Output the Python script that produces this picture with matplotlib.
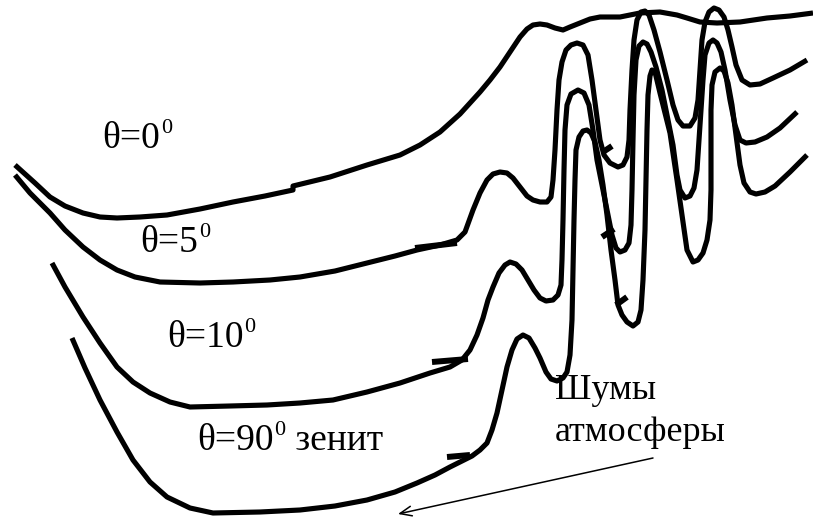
import matplotlib
matplotlib.use("Agg")
import matplotlib.pyplot as plt

# ---- curve data (pixel-space readings from the reference) ----
c1_x = [15, 35, 50, 65, 83, 100, 117, 140, 167, 200, 233, 265, 293, 293, 330, 367, 400, 420, 440, 460, 480, 490, 500,
        510, 520, 527, 533, 540, 547, 555, 563, 570, 580, 590, 600, 620, 640, 660, 677, 687, 700, 717, 740, 767, 790, 813]
c1_y = [165, 183, 197, 206, 213, 217, 218, 217, 215, 209, 202, 196, 190, 186, 177, 165, 155, 145, 132, 114, 92, 80, 67,
        52, 37, 29, 25, 24, 25, 28, 30, 27, 23, 19, 17, 17, 13, 12, 15, 18, 22, 23, 22, 18, 16, 13]

c2_x = [15, 30, 50, 65, 83, 100, 117, 135, 160, 200, 233, 270, 300, 335, 367, 395, 417, 440, 457, 465, 473, 480, 487,
        493, 500, 507, 513, 520, 527, 533, 540, 547, 551, 553, 555, 557, 559, 562, 566, 571, 577, 583, 588, 592, 596,
        600, 604, 610, 618, 623, 627, 629, 630, 632, 634, 637, 641, 645, 649, 654, 660, 667, 673, 678, 683, 690, 695,
        698, 700, 702, 705, 709, 714, 719, 724, 728, 732, 736, 742, 750, 760, 773, 790, 807]
c2_y = [175, 193, 213, 230, 247, 260, 270, 277, 282, 283, 282, 280, 277, 271, 263, 256, 250, 245, 240, 232, 210, 193, 180,
        174, 172, 173, 178, 187, 196, 200, 202, 202, 197, 180, 150, 110, 80, 62, 50, 45, 43, 45, 55, 80, 110,
        140, 155, 163, 167, 165, 157, 140, 110, 70, 40, 20, 12, 11, 15, 30, 52, 80, 105, 120, 126, 126, 118,
        100, 70, 40, 22, 12, 8, 10, 17, 30, 47, 65, 80, 85, 84, 78, 70, 60]

c3_x = [52, 65, 83, 100, 117, 133, 150, 170, 190, 230, 267, 300, 333, 367, 400, 430, 450, 462, 470, 477, 483, 488, 493,
        499, 505, 510, 516, 522, 528, 534, 540, 546, 553, 558, 561, 562, 563, 564, 565, 567, 571, 578, 584, 589, 593,
        597, 602, 607, 612, 616, 620, 625, 629, 631, 632, 633, 634, 636, 639, 643, 647, 651, 656, 662, 668, 673, 677,
        680, 685, 690, 694, 697, 699, 701, 703, 705, 709, 713, 717, 721, 725, 730, 735, 740, 746, 755, 767, 780, 797]
c3_y = [263, 287, 317, 343, 367, 382, 393, 402, 407, 406, 405, 403, 400, 392, 383, 373, 367, 360, 350, 335, 318, 300, 287,
        273, 265, 262, 264, 270, 280, 290, 298, 301, 300, 295, 285, 260, 220, 170, 130, 105, 94, 90, 93, 105, 130,
        160, 185, 210, 235, 248, 252, 250, 243, 225, 190, 140, 95, 60, 46, 42, 44, 52, 67, 90, 120, 145, 175,
        190, 198, 196, 188, 170, 140, 110, 80, 55, 43, 40, 43, 52, 70, 100, 125, 140, 143, 142, 137, 128, 112]

c4_x = [72, 85, 100, 117, 133, 150, 167, 190, 213, 260, 300, 335, 367, 395, 417, 435, 450, 462, 472, 480, 487, 492, 497,
        502, 507, 512, 517, 523, 529, 535, 540, 546, 551, 557, 563, 567, 570, 572, 573, 574, 575, 576, 579, 583, 587,
        591, 595, 599, 603, 607, 611, 615, 618, 622, 627, 633, 638, 641, 643, 645, 646, 647, 648, 650, 652, 655, 660,
        670, 677, 682, 687, 693, 698, 703, 707, 710, 711, 711, 711, 712, 715, 720, 724, 728, 732, 736, 740, 744, 750,
        756, 765, 775, 790, 807]
c4_y = [338, 368, 400, 432, 460, 482, 497, 508, 513, 512, 510, 506, 500, 492, 483, 475, 467, 461, 456, 450, 443, 430, 413,
        390, 367, 350, 339, 335, 338, 348, 358, 372, 379, 381, 378, 372, 355, 320, 270, 220, 180, 150, 137, 131, 130,
        133, 142, 160, 185, 215, 250, 280, 305, 315, 322, 326, 322, 310, 280, 230, 180, 130, 95, 76, 70, 72, 93,
        133, 180, 215, 250, 262, 260, 253, 240, 220, 190, 150, 110, 85, 72, 68, 71, 83, 105, 135, 165, 183, 192,
        194, 192, 186, 172, 155]

# short strokes (tabs and arrow-like marks) drawn on the curves
stroke_x = [[415, 457], [432, 468], [447, 470], [603, 612], [602, 614], [616, 627]]
stroke_y = [[248, 243], [362, 359], [457, 455], [152, 146], [237, 229], [305, 297]]

# labels
label_main = ["θ=0", "θ=5", "θ=10", "θ=90"]
label_sup = ["0", "0", "0", "0"]
label_tail = ["", "", "", " зенит"]
label_pos = [(102, 148), (140, 252), (167, 347), (197, 450)]
noise_lines = ["Шумы", "атмосферы"]
noise_pos = [(555, 399), (555, 441)]
arrow_from = (653, 458)
arrow_to = (398, 514)

W, H = 813, 517
fig = plt.figure(figsize=(W / 100, H / 100), dpi=100)
ax = fig.add_axes([0, 0, 1, 1])
ax.set_xlim(0, W)
ax.set_ylim(H, 0)
ax.axis("off")

lw = 3.7
for xs, ys in [(c1_x, c1_y), (c2_x, c2_y), (c3_x, c3_y), (c4_x, c4_y)]:
    ax.plot(xs, ys, color="black", lw=lw, solid_joinstyle="round", solid_capstyle="butt")
for xs, ys in zip(stroke_x, stroke_y):
    ax.plot(xs, ys, color="black", lw=lw + 0.6, solid_capstyle="butt")

font = "Liberation Serif"
main_size = 27
sup_size = 16
renderer = fig.canvas.get_renderer()
inv = ax.transData.inverted()
for main, sup, tail, (x, y) in zip(label_main, label_sup, label_tail, label_pos):
    t = ax.text(x, y, main, fontsize=main_size, family=font, ha="left", va="baseline")
    bb = t.get_window_extent(renderer)
    x1 = inv.transform((bb.x1, 0))[0]
    s = ax.text(x1 + 1, y - 15, sup, fontsize=sup_size, family=font, ha="left", va="baseline")
    if tail:
        bb2 = s.get_window_extent(renderer)
        x2 = inv.transform((bb2.x1, 0))[0]
        ax.text(x2, y, tail, fontsize=main_size, family=font, ha="left", va="baseline")

for txt, (x, y) in zip(noise_lines, noise_pos):
    ax.text(x, y, txt, fontsize=main_size - 1, family=font, ha="left", va="baseline")

ax.annotate("", xy=arrow_to, xytext=arrow_from,
            arrowprops=dict(arrowstyle="->,head_length=0.6,head_width=0.25", lw=1.1,
                            color="black", shrinkA=0, shrinkB=0, mutation_scale=14))

fig.savefig("out.png", dpi=100)
